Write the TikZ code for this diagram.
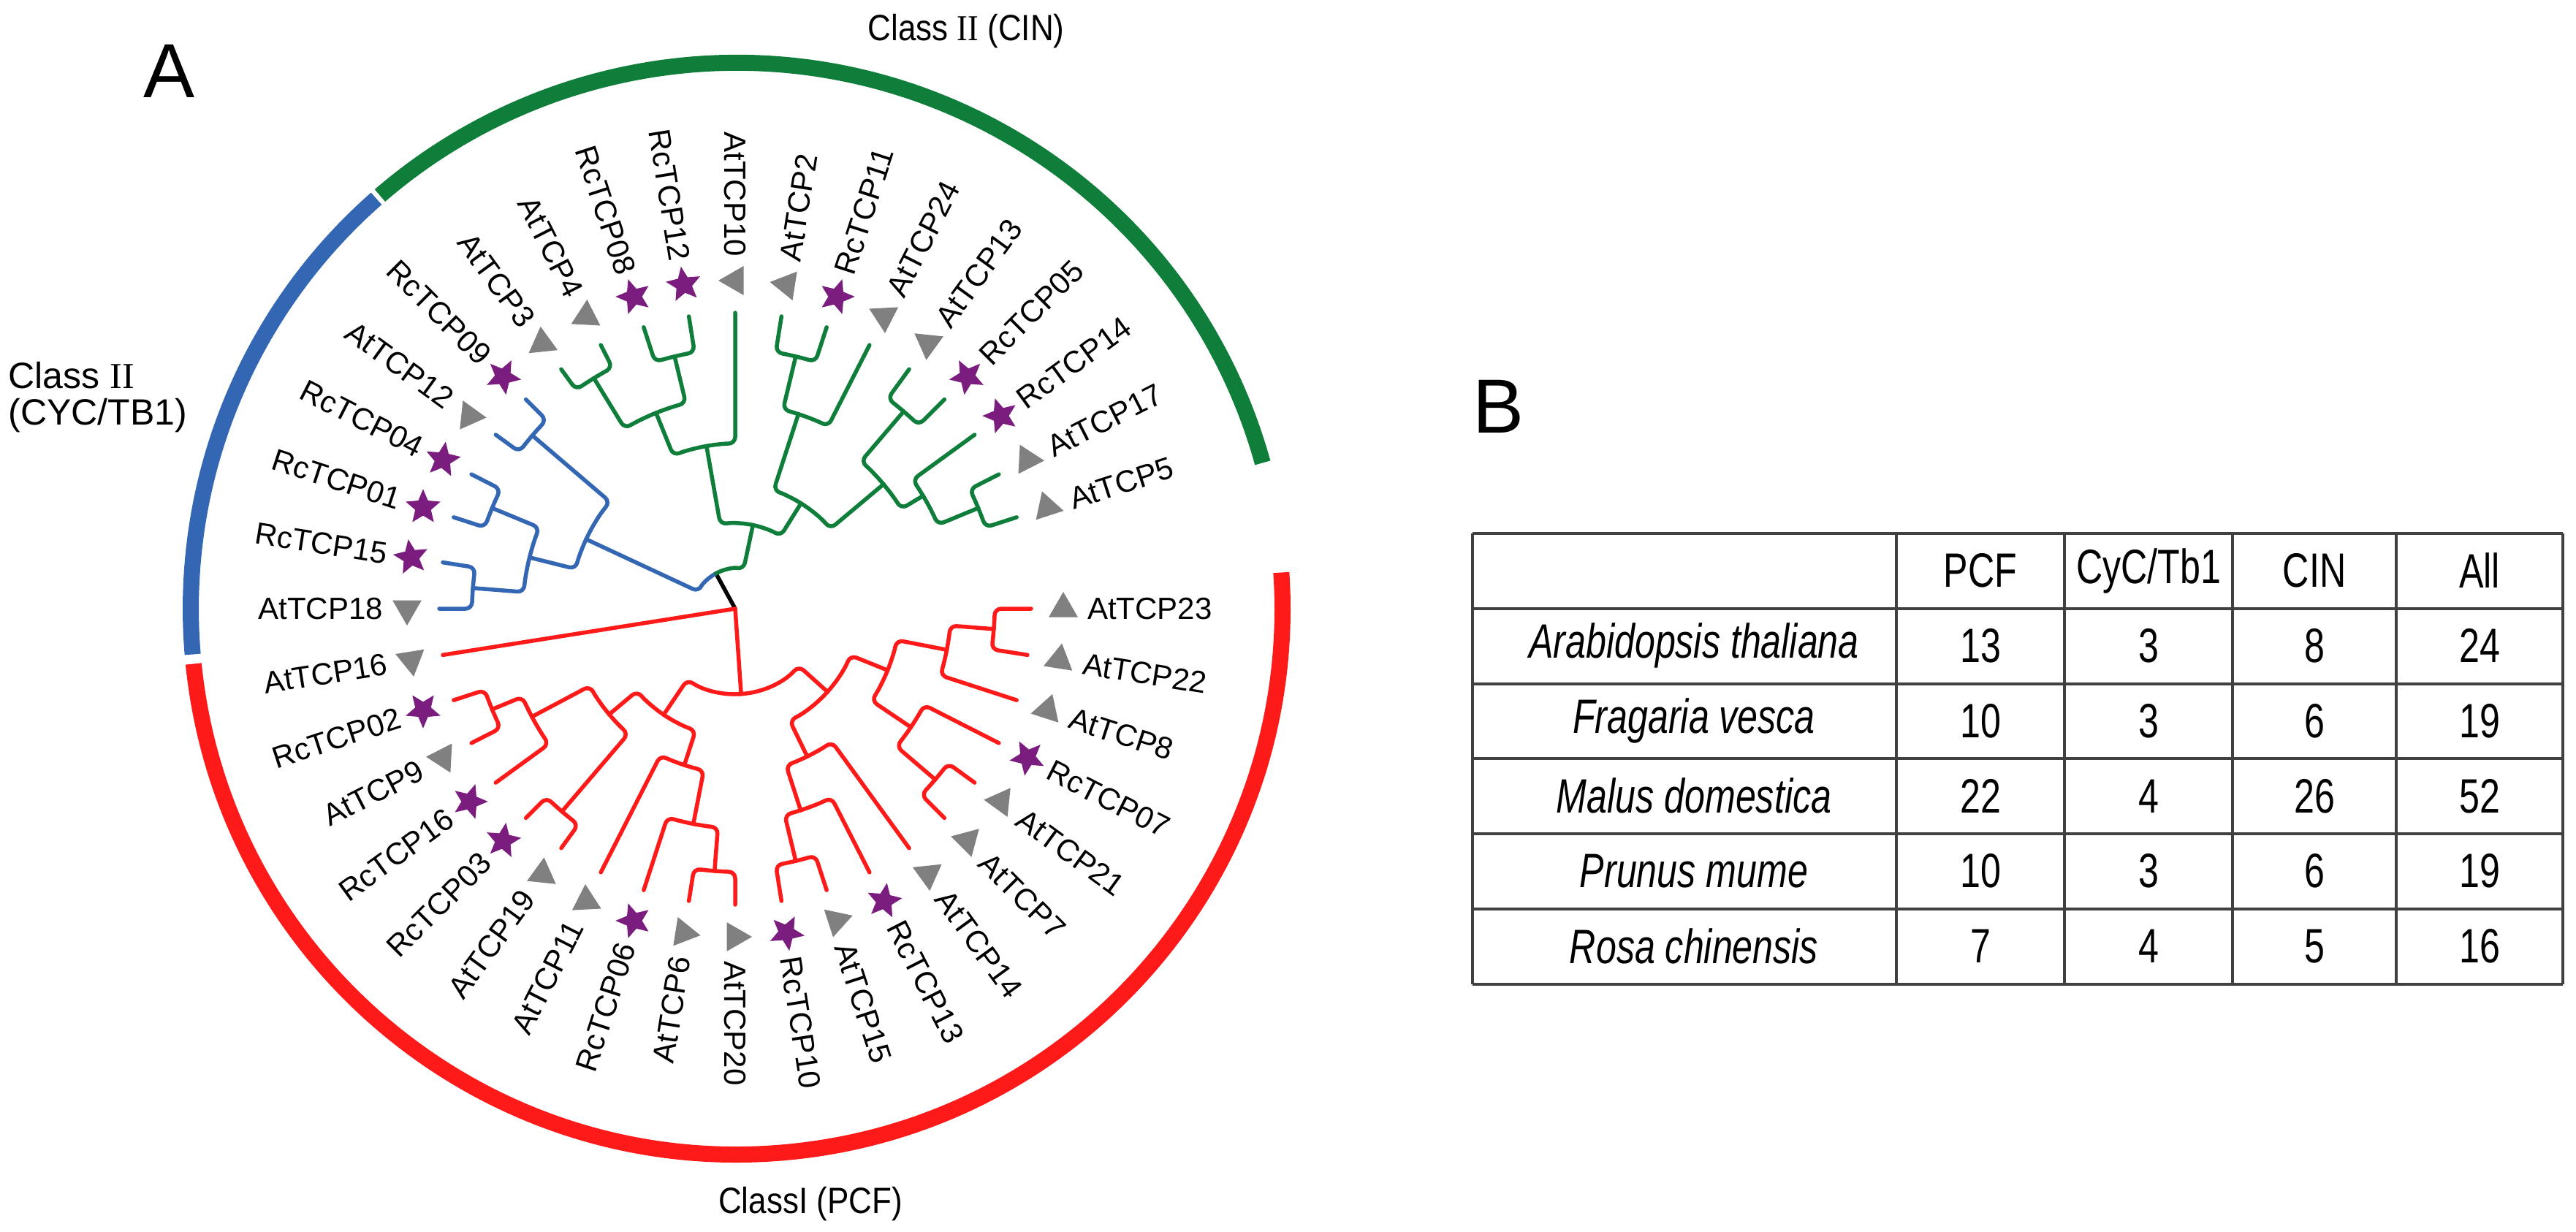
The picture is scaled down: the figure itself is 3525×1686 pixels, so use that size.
\documentclass[tikz,border=0pt]{standalone}
\usepackage{fontspec}
\setmainfont{Liberation Sans}
\newfontfamily\serifrm{Liberation Serif}
\usetikzlibrary{shapes.geometric}
\definecolor{cgreen}{HTML}{0E7E3A}
\definecolor{cblue}{HTML}{3366B3}
\definecolor{cred}{HTML}{FF1A1A}
\definecolor{cpurp}{HTML}{7B1D7F}
\definecolor{cgray}{HTML}{808080}
\definecolor{cline}{HTML}{404040}
\newcommand\br[5]{\draw[#1] (#2:#3pt) arc[start angle=#2,end angle=#4,radius=#3pt] -- (#4:#5pt);}
\newcommand\lf[4]{\draw[#1] (#2:#3pt) arc[start angle=#2,end angle=#4,radius=#3pt] -- (m#4);}
\begin{document}
\begin{tikzpicture}[x=1pt,y=1pt,
  tl/.style={font=\fontsize{42}{42}\selectfont,inner sep=0pt},
  tri/.style={regular polygon,regular polygon sides=3,fill=cgray,minimum size=46pt,inner sep=0pt},
  st/.style={star,star points=5,star point ratio=2.2,fill=cpurp,minimum size=50pt,inner sep=0pt},
  tree/.style={line width=5.5pt,rounded corners=9pt,line cap=round},
  cls/.style={font=\fontsize{50}{50}\selectfont},
  tab/.style={font=\fontsize{66}{66}\selectfont},
  big/.style={font=\fontsize{105}{105}\selectfont}]
\path[use as bounding box] (0,0) rectangle (3525,-1686);
% class arcs
\begin{scope}[shift={(1008,-833)},line width=22pt]
\draw[cgreen] (15.5:747) arc[start angle=15.5,end angle=130.8,radius=747];
\draw[cblue] (131.3:747) arc[start angle=131.3,end angle=184.8,radius=747];
\draw[cred] (185.8:747) arc[start angle=185.8,end angle=363.8,radius=747];
\end{scope}
\node[cls] (cin) at (1322,-43) {\scalebox{0.88}[1]{Class {\serifrm II} (CIN)}};
\node[cls,align=left,anchor=north west] (cyc) at (8,-492) {Class {\serifrm II}\\(CYC/TB1)};
\node[cls] (pcf) at (1109,-1648) {\scalebox{0.88}[1]{ClassI (PCF)}};
\node[big] (A) at (232,-97) {A};
\node[big] (B) at (2050,-556) {B};
% tree
\begin{scope}[shift={(1006,-833)}]
\coordinate (root) at (0,0);
\foreach \n/\a/\t in {AtTCP16/189/0,AtTCP18/180/0,RcTCP15/171/1,RcTCP01/162/1,RcTCP04/153/1,AtTCP12/144/0,RcTCP09/135/1,AtTCP3/126/0,AtTCP4/117/0,RcTCP08/108/1,RcTCP12/99/1,AtTCP10/90/0,AtTCP2/81/0,RcTCP11/72/1,AtTCP24/63/0,AtTCP13/54/0,RcTCP05/45/1,RcTCP14/36/1,AtTCP17/27/0,AtTCP5/18/0,AtTCP23/0/0,AtTCP22/-9/0,AtTCP8/-18/0,RcTCP07/-27/1,AtTCP21/-36/0,AtTCP7/-45/0,AtTCP14/-54/0,RcTCP13/-63/1,AtTCP15/-72/0,RcTCP10/-81/1,AtTCP20/-90/0,AtTCP6/-99/0,RcTCP06/-108/1,AtTCP11/-117/0,AtTCP19/-126/0,RcTCP03/-135/1,RcTCP16/-144/1,AtTCP9/-153/0,RcTCP02/-162/1}{
  \coordinate (m\a) at (\a:405pt);
  \ifnum\t=1
    \node[st,rotate=\a-90] (s\n) at (\a:449pt) {};
  \else
    \node[tri,rotate=\a] (s\n) at (\a:449pt) {};
  \fi
  \ifdim\a pt<89pt \ifdim\a pt>-91pt
     \node[tl,rotate=\a,anchor=west] (l\n) at (\a:482pt) {\n};
   \else
     \node[tl,rotate=\a-180,anchor=east] (l\n) at (\a:482pt) {\n};
   \fi
  \else
     \node[tl,rotate=\a-180,anchor=east] (l\n) at (\a:482pt) {\n};
  \fi
}
\draw[tree,black] (root) -- (118.6:55pt);
% blue
\br{tree,cblue}{118.6}{55}{155}{225}
\br{tree,cblue}{155}{225}{139.5}{365}
\br{tree,cblue}{155}{225}{166}{290}
\lf{tree,cblue}{139.5}{365}{135}
\lf{tree,cblue}{139.5}{365}{144}
\br{tree,cblue}{166}{290}{157.5}{360}
\br{tree,cblue}{166}{290}{175.5}{360}
\lf{tree,cblue}{157.5}{360}{153}
\lf{tree,cblue}{157.5}{360}{162}
\lf{tree,cblue}{175.5}{360}{171}
\lf{tree,cblue}{175.5}{360}{180}
% green
\br{tree,cgreen}{118.6}{55}{78}{117}
\br{tree,cgreen}{78}{117}{100}{226}
\br{tree,cgreen}{78}{117}{58}{170}
\br{tree,cgreen}{100}{226}{112}{289}
\lf{tree,cgreen}{100}{226}{90}
\br{tree,cgreen}{112}{289}{121.5}{370}
\br{tree,cgreen}{112}{289}{103.5}{355}
\lf{tree,cgreen}{121.5}{370}{126}
\lf{tree,cgreen}{121.5}{370}{117}
\lf{tree,cgreen}{103.5}{355}{108}
\lf{tree,cgreen}{103.5}{355}{99}
\br{tree,cgreen}{58}{170}{72}{280}
\br{tree,cgreen}{58}{170}{40}{265}
\br{tree,cgreen}{72}{280}{76.5}{355}
\lf{tree,cgreen}{72}{280}{63}
\lf{tree,cgreen}{76.5}{355}{81}
\lf{tree,cgreen}{76.5}{355}{72}
\br{tree,cgreen}{40}{265}{49.5}{355}
\br{tree,cgreen}{40}{265}{31}{300}
\lf{tree,cgreen}{49.5}{355}{54}
\lf{tree,cgreen}{49.5}{355}{45}
\lf{tree,cgreen}{31}{300}{36}
\br{tree,cgreen}{31}{300}{22.5}{360}
\lf{tree,cgreen}{22.5}{360}{27}
\lf{tree,cgreen}{22.5}{360}{18}
% red
\draw[tree,cred] (root) -- (m189);
\draw[tree,cred] (root) -- (-86:117pt);
\br{tree,cred}{-86}{117}{-124}{175}
\br{tree,cred}{-86}{117}{-42}{170}
\br{tree,cred}{-124}{175}{-140}{225}
\br{tree,cred}{-124}{175}{-108}{225}
\br{tree,cred}{-140}{225}{-152}{315}
\br{tree,cred}{-140}{225}{-130.5}{365}
\br{tree,cred}{-152}{315}{-157.5}{360}
\lf{tree,cred}{-152}{315}{-144}
\lf{tree,cred}{-157.5}{360}{-162}
\lf{tree,cred}{-157.5}{360}{-153}
\lf{tree,cred}{-130.5}{365}{-135}
\lf{tree,cred}{-130.5}{365}{-126}
\lf{tree,cred}{-108}{225}{-117}
\br{tree,cred}{-108}{225}{-101}{300}
\lf{tree,cred}{-101}{300}{-108}
\br{tree,cred}{-101}{300}{-94.5}{360}
\lf{tree,cred}{-94.5}{360}{-99}
\lf{tree,cred}{-94.5}{360}{-90}
\br{tree,cred}{-42}{170}{-64}{225}
\br{tree,cred}{-42}{170}{-22}{225}
\br{tree,cred}{-64}{225}{-72}{290}
\lf{tree,cred}{-64}{225}{-54}
\br{tree,cred}{-72}{290}{-76.5}{355}
\lf{tree,cred}{-72}{290}{-63}
\lf{tree,cred}{-76.5}{355}{-81}
\lf{tree,cred}{-76.5}{355}{-72}
\br{tree,cred}{-22}{225}{-11}{295}
\br{tree,cred}{-22}{225}{-34}{290}
\br{tree,cred}{-11}{295}{-4.5}{355}
\lf{tree,cred}{-11}{295}{-18}
\lf{tree,cred}{-4.5}{355}{0}
\lf{tree,cred}{-4.5}{355}{-9}
\lf{tree,cred}{-34}{290}{-27}
\br{tree,cred}{-34}{290}{-40.5}{360}
\lf{tree,cred}{-40.5}{360}{-36}
\lf{tree,cred}{-40.5}{360}{-45}
\end{scope}
% table
\begin{scope}[line width=4pt,cline]
\foreach \y in {730,832.8,935.6,1038.4,1141.2,1244,1346.8} \draw (2015,-\y) -- (3507,-\y);
\foreach \x in {2015,2595,2825,3055,3279,3507} \draw (\x,-730) -- (\x,-1346.8);
\end{scope}
\foreach \c/\x in {PCF/2710,CyC\slash Tb1/2940,CIN/3167,All/3393}
  \node[tab] (h\x) at (\x,-781) {\scalebox{0.76}[1]{\c}};
\foreach \s/\p/\q/\r/\u [count=\i] in {Arabidopsis thaliana/13/3/8/24,Fragaria vesca/10/3/6/19,Malus domestica/22/4/26/52,Prunus mume/10/3/6/19,Rosa chinensis/7/4/5/16}{
  \node[tab] (sp\i) at (2318,-781-102.8*\i) {\scalebox{0.76}[1]{\itshape \s}};
  \node[tab] (p\i) at (2710,-781-102.8*\i) {\scalebox{0.76}[1]{\p}};
  \node[tab] (q\i) at (2940,-781-102.8*\i) {\scalebox{0.76}[1]{\q}};
  \node[tab] (r\i) at (3167,-781-102.8*\i) {\scalebox{0.76}[1]{\r}};
  \node[tab] (u\i) at (3393,-781-102.8*\i) {\scalebox{0.76}[1]{\u}};
}
\end{tikzpicture}
\end{document}
